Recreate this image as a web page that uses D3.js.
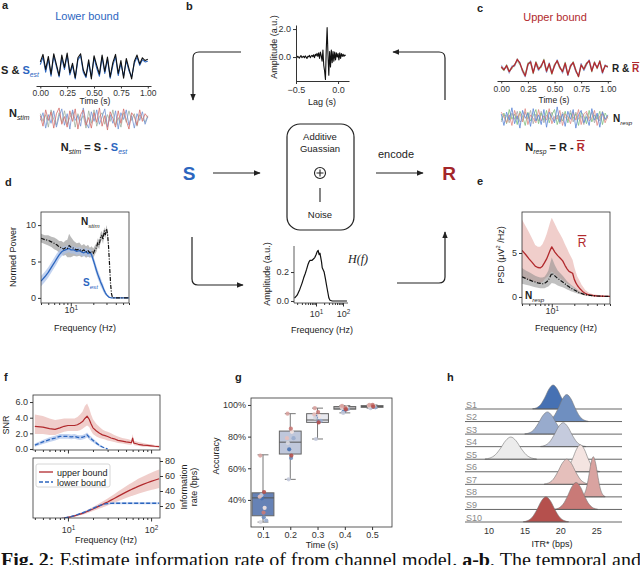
<!DOCTYPE html>
<html>
<head>
<meta charset="utf-8">
<script src="https://cdn.jsdelivr.net/npm/d3@7/dist/d3.min.js"></script>
<style>
  body { margin: 0; background: #fff; }
  svg { display: block; font-family: "Liberation Sans", Arial, sans-serif; }
</style>
</head>
<body>
<svg id="fig" width="640" height="565"></svg>
<script>
// ---------------- data ----------------
// a: stimulus and its estimate (0..1 s)
var timeGrid = d3.range(41).map(function(i){ return i / 40; });
var sSig = [0.6,1.7,-0.5,1.4,-1.2,1.8,0.2,-1.4,1.6,-0.2,1.9,-1.0,0.4,-1.7,1.2,1.8,-0.6,-1.5,0.9,-1.9,1.5,0.1,-1.2,1.6,-0.8,1.3,-1.6,0.5,1.7,-1.1,0.8,-1.8,1.1,-0.4,-1.9,0.7,1.6,0.3,1.2,0.8,1.0];
var sEst = [0.2,1.3,-0.9,1.0,-1.5,1.5,-0.1,-1.6,1.2,-0.5,1.6,-1.3,0.1,-1.9,0.9,1.5,-0.9,-1.7,0.5,-1.6,1.2,-0.3,-1.5,1.3,-1.1,1.0,-1.8,0.1,1.4,-1.4,0.4,-1.5,0.8,-0.7,-1.6,0.4,1.3,0.1,0.9,0.6,0.7];
var nStimRed = [0.3,-0.8,0.9,-0.2,0.7,-1.0,0.5,1.1,-0.6,0.2,-0.9,0.8,-0.3,1.0,-1.1,0.4,0.9,-0.7,0.1,-1.0,0.6,-0.4,1.1,-0.8,0.3,-1.2,0.7,0.0,-0.9,0.8,-0.5,1.0,-0.2,-1.1,0.6,0.2,-0.7,0.9,-0.3,0.5,0.1];
var nStimBlue = [-0.2,0.6,-1.0,0.4,-0.5,0.8,-0.9,0.2,1.0,-0.7,0.5,-1.1,0.9,-0.2,0.3,-0.8,1.1,-0.4,-1.0,0.7,-0.3,0.9,-0.6,0.2,1.0,-0.9,0.4,-0.5,0.8,-1.1,0.6,-0.1,0.9,-0.7,0.3,-1.0,0.5,-0.2,0.7,-0.6,0.2];
var nStimGray = [0.5,-0.3,0.4,-0.9,0.9,-0.1,-0.7,0.6,-0.4,0.8,-0.6,0.1,0.7,-0.9,0.5,-0.2,0.3,-1.0,0.8,-0.5,0.9,-0.8,0.2,0.6,-0.6,0.4,-0.3,0.9,-0.7,0.1,-0.9,0.6,-0.4,0.8,-0.2,0.5,-0.8,0.4,0.0,-0.4,0.3];

// c: responses, mean response and response noise
var rBar = [0.2,-0.3,0.4,-0.6,0.1,0.5,1.4,0.8,-0.4,-1.3,0.6,1.0,-0.8,0.9,-0.2,0.3,1.3,-0.5,0.7,-0.9,0.4,1.2,0.1,-0.6,0.8,-1.1,0.3,0.9,-0.4,-1.4,0.5,-0.2,0.7,1.2,-0.5,0.9,0.0,1.1,-0.7,0.4,0.2];
var rTrialBlue = [0.5,-0.1,0.2,-0.9,0.4,0.3,1.2,1.0,-0.7,-1.5,0.3,1.2,-0.5,0.6,-0.5,0.6,1.0,-0.8,0.9,-0.6,0.1,1.4,0.3,-0.9,0.5,-1.3,0.6,0.7,-0.7,-1.2,0.8,-0.5,0.4,1.4,-0.2,0.6,0.3,0.8,-1.0,0.6,0.0];
var rTrialGreen = [0.0,-0.5,0.6,-0.4,-0.2,0.7,1.1,0.5,-0.2,-1.0,0.9,0.8,-1.0,1.1,0.1,0.0,1.5,-0.3,0.4,-1.1,0.7,1.0,-0.2,-0.4,1.0,-0.9,0.0,1.1,-0.2,-1.5,0.3,0.1,0.9,1.0,-0.7,1.1,-0.2,1.3,-0.5,0.2,0.4];
var rTrialGray = [0.3,-0.2,0.1,-0.7,0.3,0.2,1.6,0.6,-0.6,-1.1,0.4,1.2,-0.6,0.7,-0.4,0.5,1.1,-0.7,0.5,-0.7,0.6,1.1,0.3,-0.8,0.6,-1.2,0.5,0.8,-0.6,-1.3,0.7,-0.4,0.5,1.3,-0.3,0.7,0.2,1.0,-0.8,0.3,0.1];
var nRespBlue = [0.4,-0.9,0.6,-0.3,1.1,-0.7,0.2,-1.2,0.8,-0.1,0.5,-1.0,1.0,-0.4,0.3,-0.8,0.9,-1.1,0.6,0.0,-0.6,1.2,-0.5,0.4,-1.0,0.7,-0.2,0.9,-1.2,0.3,0.8,-0.6,0.1,-0.9,1.0,-0.3,0.5,-1.1,0.6,-0.2,0.3];
var nRespGreen = [-0.3,0.5,-0.7,0.9,-0.2,0.4,-0.8,0.7,0.1,-0.9,0.6,-0.4,0.2,0.9,-0.7,0.5,-0.3,0.8,-0.6,0.3,0.9,-0.8,0.2,-0.4,0.7,-0.6,0.5,-0.1,0.4,-0.9,0.6,0.2,-0.7,0.8,-0.5,0.3,-0.2,0.7,-0.8,0.5,-0.1];
var nRespRed = [0.6,0.1,-0.6,0.3,-0.9,0.8,-0.2,0.5,-0.5,1.0,-0.8,0.3,-0.1,-0.6,0.9,-0.4,0.2,-0.3,1.0,-0.7,0.1,-0.2,0.8,-0.9,0.4,0.1,-0.7,0.6,-0.3,0.9,-0.8,0.4,0.7,-0.4,-0.1,0.8,-0.9,0.2,0.4,-0.6,0.2];
var nRespGray = [-0.5,0.3,0.2,-0.6,0.5,-0.2,0.7,-0.5,-0.3,0.6,-0.2,0.8,-0.7,0.4,-0.4,0.7,-0.6,0.3,-0.2,0.6,-0.4,0.3,-0.7,0.6,0.0,-0.3,0.8,-0.5,0.6,-0.2,0.2,-0.8,0.5,-0.1,0.6,-0.6,0.3,-0.4,0.7,-0.3,0.1];

// b: temporal response function
var lagGrid = d3.range(60).map(function(i){ return -0.5 + i * 0.01; });
var trf = [0.0,-0.05,0.06,0.0,-0.08,0.04,0.1,-0.04,0.02,0.06,
           -0.05,0.08,0.0,-0.1,0.05,0.02,0.12,-0.04,0.06,0.12,
           0.02,0.16,-0.04,0.2,0.1,0.26,0.05,0.3,-0.1,0.35,
           0.1,-0.3,0.5,-0.6,-1.0,-1.6,0.6,2.1,0.2,-1.3,
           0.4,-0.7,0.5,-0.4,0.4,-0.3,0.35,-0.2,0.3,0.0,
           0.25,-0.2,0.3,-0.1,0.25,0.05,0.2,0.05,0.15,0.1];

// d, e: spectra
var fD = [4,4.5,5,5.5,6,6.5,7,7.5,8,8.5,9,9.5,10,11,12,13,14,15,16,17,18,19,20,21,22,23,24,25,26,27,28,29,30,31,32,33,34,35,36,38,40,45,50,55,60];
var nStimPow = [8.2,8.0,7.9,7.7,7.5,7.3,7.0,6.9,6.7,6.9,6.8,7.2,7.0,6.8,6.6,6.7,6.4,6.6,6.3,6.5,6.2,6.4,6.1,6.6,6.9,7.6,7.3,8.3,8.6,8.0,9.2,8.7,9.5,8.8,7.0,4.5,2.0,0.6,0.1,0,0,0,0,0,0];
var nStimSd = [0.6,0.6,0.7,0.7,0.8,0.8,0.8,0.9,0.9,1.0,1.2,1.6,1.4,1.0,0.9,0.9,0.8,0.8,0.8,0.8,0.7,0.7,0.7,0.6,0.6,0.6,0.6,0.6,0.6,0.6,0.5,0.5,0.5,0.5,0.5,0.4,0.3,0.1,0.05,0,0,0,0,0,0];
var sEstPow = [2.3,2.9,3.5,4.2,4.8,5.4,5.9,6.3,6.5,6.6,6.7,6.8,6.6,6.6,6.4,6.5,6.3,6.2,6.4,6.1,6.3,5.9,5.2,4.5,3.8,3.2,2.7,2.2,1.8,1.4,1.0,0.7,0.45,0.3,0.15,0.08,0.03,0,0,0,0,0,0,0,0];
var sEstSd = [0.7,0.7,0.7,0.7,0.7,0.7,0.6,0.6,0.6,0.5,0.5,0.5,0.5,0.5,0.5,0.5,0.5,0.5,0.5,0.5,0.5,0.5,0.5,0.6,0.6,0.6,0.6,0.6,0.5,0.5,0.4,0.3,0.2,0.15,0.1,0.05,0.02,0,0,0,0,0,0,0,0];
var rBarPsd = [5.3,4.8,4.3,3.9,3.5,3.35,3.3,3.5,3.9,4.3,4.8,5.3,5.7,5.1,4.7,4.4,4.1,3.6,3.2,2.9,2.8,2.7,2.0,1.6,1.3,1.1,0.9,0.75,0.6,0.5,0.42,0.36,0.3,0.27,0.24,0.22,0.2,0.18,0.16,0.14,0.12,0.1,0.08,0.07,0.06];
var rBarHi = [8.8,8.0,7.3,6.6,5.9,5.7,5.7,6.0,6.5,7.1,7.8,8.5,9.0,8.3,7.6,7.1,6.6,6.0,5.5,5.0,4.6,4.2,3.4,2.8,2.3,2.0,1.7,1.4,1.2,1.0,0.8,0.7,0.6,0.5,0.45,0.4,0.36,0.33,0.3,0.27,0.25,0.2,0.16,0.14,0.12];
var rBarLo = [2.2,2.0,1.9,1.8,1.7,1.65,1.6,1.7,2.0,2.2,2.4,2.7,2.9,2.6,2.3,2.1,1.9,1.7,1.5,1.4,1.3,1.2,1.0,0.8,0.6,0.45,0.35,0.3,0.22,0.18,0.14,0.12,0.1,0.09,0.08,0.07,0.06,0.05,0.05,0.04,0.03,0.03,0.02,0.02,0.02];
var nRespPsd = [2.3,2.1,1.95,1.8,1.7,1.6,1.55,1.5,1.55,1.7,1.9,2.3,2.7,2.4,2.1,1.9,1.7,1.5,1.3,1.15,1.0,0.9,0.8,0.7,0.6,0.5,0.45,0.4,0.35,0.3,0.27,0.24,0.22,0.2,0.18,0.17,0.16,0.15,0.14,0.12,0.11,0.09,0.08,0.07,0.06];
var nRespHi = [3.3,3.0,2.8,2.6,2.4,2.3,2.2,2.2,2.3,2.6,3.0,3.8,4.5,3.6,3.0,2.7,2.4,2.1,1.8,1.6,1.4,1.25,1.1,0.95,0.8,0.68,0.6,0.52,0.46,0.4,0.36,0.32,0.29,0.26,0.24,0.22,0.2,0.19,0.18,0.16,0.14,0.12,0.1,0.09,0.08];
var nRespLo = [1.5,1.4,1.3,1.2,1.1,1.05,1.0,1.0,1.0,1.1,1.2,1.4,1.6,1.5,1.3,1.2,1.1,1.0,0.85,0.75,0.65,0.58,0.5,0.45,0.4,0.33,0.3,0.27,0.24,0.2,0.18,0.16,0.15,0.14,0.12,0.11,0.1,0.1,0.09,0.08,0.07,0.06,0.05,0.05,0.04];

// H(f): transfer function amplitude
var hF = [1.6,2,2.5,3,3.5,4,4.5,5,5.5,6,7,8,9,10,11,12,13,14,15,16,17,18,20,22,25,28,30,33,40,60,100,140];
var hAmp = [0.02,0.04,0.08,0.12,0.16,0.19,0.22,0.25,0.27,0.28,0.28,0.29,0.30,0.32,0.34,0.35,0.32,0.33,0.30,0.27,0.23,0.22,0.20,0.16,0.10,0.05,0.02,0.005,0,0,0,0];

// f: SNR and information rate
var fF = [4,5,6,7,8,9,10,11,12,13,14,15,16,17,18,19,20,22,24,26,28,30,33,36,40,45,50,55,58,60,62,65,70,80,90,100,110,125];
var snrUp = [2.9,2.8,2.6,2.5,2.7,2.9,3.0,3.0,3.0,3.1,3.3,3.5,3.9,4.2,3.8,3.2,2.7,2.3,2.0,1.8,1.7,1.6,1.4,1.3,1.1,1.0,0.9,0.85,0.8,1.4,0.75,0.7,0.6,0.5,0.45,0.4,0.35,0.3];
var snrUpHi = [4.4,4.2,3.9,3.7,3.8,3.9,3.9,3.9,3.9,4.1,4.4,4.8,5.5,5.8,5.2,4.4,3.8,3.2,2.8,2.5,2.3,2.2,2.0,1.8,1.6,1.4,1.3,1.2,1.1,1.9,1.05,1.0,0.9,0.75,0.65,0.6,0.5,0.45];
var snrUpLo = [1.9,1.9,1.8,1.8,2.0,2.2,2.3,2.3,2.3,2.3,2.4,2.6,2.8,3.0,2.8,2.3,1.9,1.6,1.4,1.3,1.2,1.1,1.0,0.9,0.75,0.7,0.6,0.55,0.5,1.0,0.5,0.45,0.4,0.3,0.28,0.25,0.22,0.2];
var fFlo = [4,5,6,7,8,9,10,11,12,13,14,15,16,17,18,19,20,22,24,26,28,30];
var snrLow = [0.5,0.9,1.2,1.4,1.6,1.6,1.6,1.55,1.6,1.5,1.45,1.5,1.6,1.8,1.5,1.3,1.1,0.75,0.45,0.25,0.1,0.0];
var snrLowSd = [0.2,0.25,0.3,0.3,0.3,0.3,0.3,0.3,0.3,0.3,0.3,0.3,0.3,0.3,0.3,0.3,0.25,0.2,0.15,0.1,0.05,0.0];
var infoUp = [0.3,0.8,1.4,2.1,2.9,3.8,4.8,5.8,6.9,8.0,9.1,10.2,11.4,12.6,13.8,15.0,16.0,18.2,20.2,22.0,23.8,25.4,27.8,30.0,32.8,35.8,38.5,40.8,42.0,42.8,43.5,44.5,46.2,48.8,51.0,52.8,54.3,56.3];
var infoUpSd = [0.1,0.2,0.3,0.4,0.5,0.6,0.8,0.9,1.1,1.3,1.5,1.7,1.9,2.1,2.3,2.5,2.7,3.1,3.5,3.9,4.3,4.7,5.2,5.8,6.5,7.2,7.9,8.5,8.8,9.0,9.2,9.5,10.0,10.6,11.1,11.5,11.9,12.3];
var infoLow = [0.3,0.8,1.4,2.1,2.9,3.9,5.0,6.1,7.3,8.5,9.7,10.9,12.1,13.3,14.5,15.7,16.8,18.9,20.6,21.9,22.8,23.3,23.6,23.7,23.7,23.7,23.7,23.7,23.7,23.7,23.7,23.7,23.7,23.7,23.7,23.7,23.7,23.7];
var infoLowSd = [0.1,0.2,0.3,0.4,0.5,0.6,0.7,0.8,0.9,1.0,1.0,1.1,1.1,1.2,1.2,1.2,1.2,1.3,1.3,1.3,1.3,1.3,1.3,1.3,1.3,1.3,1.3,1.3,1.3,1.3,1.3,1.3,1.3,1.3,1.3,1.3,1.3,1.3];

// g: accuracy vs. window length
var timesG = [0.1, 0.2, 0.3, 0.4, 0.5];
var boxQ1 = [30, 69, 89, 97.3, 98.5];
var boxMed = [41.3, 76.5, 90.5, 98, 99];
var boxQ3 = [44.5, 83.5, 94.5, 99, 99.6];
var whiskLo = [26, 53, 78.5, 95, 98];
var whiskHi = [68.5, 94.5, 98, 99.6, 100];
var boxFill = ["#6682b6", "#bfc7db", "#e8e9ef", "#eeebee", "#f2e8e8"];
var accBySubject = [
  [41, 72, 92.5, 96, 98.5],
  [29, 66.5, 89.5, 97, 99],
  [27, 79, 90, 97.5, 98.5],
  [43, 53, 78.5, 95, 98],
  [26, 76, 92, 98, 99],
  [35, 83, 93, 98.5, 99.5],
  [42, 79, 94, 99, 99.5],
  [68, 94.5, 98, 99.5, 100],
  [32, 85, 95.5, 98, 100],
  [45, 68, 89, 97.2, 99]
];
var jitterG = [-0.004, 0.003, 0.012, -0.006, -0.009, 0.006, -0.012, -0.01, 0.002, 0.004];

// h: ITR distributions per subject
var subjects = ["S1","S2","S3","S4","S5","S6","S7","S8","S9","S10"];
var subjColors = ["#4671b3","#6f8fc0","#98abcd","#c5cbdd","#ececec","#f4e4e1","#e5bfbb","#d9a3a0","#c97a77","#b5504d"];
var ridgeItr = [
  [16.15,16.72,17.29,17.86,18.43,19.0,19.57,20.14,20.71,21.28,21.85],
  [17.9,18.5,19.1,19.7,20.3,20.9,21.5,22.1,22.7,23.3,23.9],
  [15.05,15.68,16.31,16.94,17.57,18.2,18.83,19.46,20.09,20.72,21.35],
  [17.25,17.88,18.51,19.14,19.77,20.4,21.03,21.66,22.29,22.92,23.55],
  [9.5,10.22,10.94,11.66,12.38,13.1,13.82,14.54,15.26,15.98,16.7],
  [20.1,20.64,21.18,21.72,22.26,22.8,23.34,23.88,24.42,24.96,25.5],
  [17.75,18.38,19.01,19.64,20.27,20.9,21.53,22.16,22.79,23.42,24.05],
  [22.95,23.28,23.61,23.94,24.27,24.6,24.93,25.26,25.59,25.92,26.25],
  [19.2,19.8,20.4,21.0,21.6,22.2,22.8,23.4,24.0,24.6,25.2],
  [14.85,15.48,16.11,16.74,17.37,18.0,18.63,19.26,19.89,20.52,21.15]
];
var ridgeDens = [
  [0.004,0.022,0.079,0.195,0.334,0.40,0.334,0.195,0.079,0.022,0.004],
  [0.005,0.025,0.089,0.219,0.376,0.45,0.376,0.219,0.089,0.025,0.005],
  [0.004,0.021,0.073,0.18,0.309,0.37,0.309,0.18,0.073,0.021,0.004],
  [0.004,0.022,0.079,0.195,0.334,0.40,0.334,0.195,0.079,0.022,0.004],
  [0.004,0.021,0.073,0.18,0.309,0.37,0.309,0.18,0.073,0.021,0.004],
  [0.005,0.025,0.089,0.219,0.376,0.45,0.376,0.219,0.089,0.025,0.005],
  [0.005,0.024,0.083,0.205,0.351,0.42,0.351,0.205,0.083,0.024,0.005],
  [0.007,0.038,0.133,0.326,0.559,0.67,0.559,0.326,0.133,0.038,0.007],
  [0.005,0.025,0.089,0.219,0.376,0.45,0.376,0.219,0.089,0.025,0.005],
  [0.005,0.024,0.083,0.205,0.351,0.42,0.351,0.205,0.083,0.024,0.005]
];

// ---------------- drawing ----------------
var svg = d3.select("#fig");
var BLUE = "#2c66bf", RED = "#b1292d", DRED = "#a3262a", INK = "#222";
var FS = 9;   // axis label / tick size

var defs = svg.append("defs");
defs.append("marker").attr("id", "arr").attr("viewBox", "0 0 10 10")
    .attr("refX", 9).attr("refY", 5).attr("markerWidth", 7).attr("markerHeight", 7)
    .attr("markerUnits", "userSpaceOnUse").attr("orient", "auto")
  .append("path").attr("d", "M0,1 L10,5 L0,9 Z").attr("fill", INK);

function clip(id, x, y, w, h) {
  defs.append("clipPath").attr("id", id).append("rect")
      .attr("x", x).attr("y", y).attr("width", w).attr("height", h);
  return "url(#" + id + ")";
}

function styleAxis(g, fs) {
  g.attr("font-family", null).attr("font-size", fs || FS);
  g.selectAll("path.domain").attr("stroke", "#333");
  g.selectAll(".tick line").attr("stroke", "#333");
  g.selectAll(".tick text").attr("fill", "#333");
  return g;
}

function sup10(g) {
  g.selectAll(".tick text").each(function(d) {
    var t = d3.select(this);
    t.text(null);
    t.append("tspan").text("10");
    t.append("tspan").attr("dy", "-0.5em").attr("font-size", "0.7em")
     .text(Math.round(Math.log10(d)));
  });
}

function logBottom(x, y, majors, pad, labelled) {
  var minors = x.ticks().filter(function(v){ return majors.indexOf(v) < 0; });
  var g1 = svg.append("g").attr("transform", "translate(0," + y + ")")
    .call(d3.axisBottom(x).tickValues(minors).tickSize(2).tickFormat(""));
  styleAxis(g1).select(".domain").remove();
  var g2 = svg.append("g").attr("transform", "translate(0," + y + ")")
    .call(d3.axisBottom(x).tickValues(majors).tickSize(3.5).tickPadding(pad)
      .tickFormat(labelled ? function(){ return "1"; } : ""));
  styleAxis(g2).select(".domain").remove();
  if (labelled) sup10(g2);
}

function rich(x, y, parts, fs, anchor) {
  var t = svg.append("text").attr("x", x).attr("y", y).attr("font-size", fs)
    .attr("text-anchor", anchor || "start").attr("fill", INK);
  var shift = 0;
  parts.forEach(function(p) {
    var s = t.append("tspan").text(p.t);
    var want = p.sub ? fs * 0.25 : (p.sup ? -fs * 0.4 : 0);
    if (want !== shift) { s.attr("dy", want - shift); shift = want; }
    if (p.sub || p.sup) s.attr("font-size", fs * 0.62);
    if (p.b) s.attr("font-weight", "bold");
    if (p.i) s.attr("font-style", "italic");
    if (p.c) s.attr("fill", p.c);
    if (p.over) s.style("text-decoration", "overline");
  });
  return t;
}

function label(x, y, s, fs, opts) {
  opts = opts || {};
  var t = svg.append("text").attr("x", x).attr("y", y).attr("font-size", fs)
    .attr("text-anchor", opts.anchor || "middle").attr("fill", opts.color || INK).text(s);
  if (opts.bold) t.attr("font-weight", "bold");
  if (opts.rot) t.attr("transform", "rotate(-90," + x + "," + y + ")");
  return t;
}

function trace(xs, ys, xsc, ysc, color, w, opts) {
  opts = opts || {};
  var p = svg.append("path").datum(ys)
    .attr("d", d3.line().defined(function(d){ return d != null; })
      .x(function(d, i){ return xsc(xs[i]); }).y(function(d){ return ysc(d); }))
    .attr("fill", "none").attr("stroke", color).attr("stroke-width", w)
    .attr("stroke-linejoin", "round");
  if (opts.op) p.attr("opacity", opts.op);
  if (opts.dash) p.attr("stroke-dasharray", opts.dash);
  if (opts.clip) p.attr("clip-path", opts.clip);
  return p;
}

function band(xs, lo, hi, xsc, ysc, color, op, clipUrl) {
  var p = svg.append("path").datum(xs)
    .attr("d", d3.area().x(function(d){ return xsc(d); })
      .y0(function(d, i){ return ysc(lo[i]); }).y1(function(d, i){ return ysc(hi[i]); }))
    .attr("fill", color).attr("opacity", op).attr("stroke", "none");
  if (clipUrl) p.attr("clip-path", clipUrl);
  return p;
}

function frame(x0, y0, x1, y1) {
  svg.append("rect").attr("x", x0).attr("y", y0).attr("width", x1 - x0).attr("height", y1 - y0)
    .attr("fill", "none").attr("stroke", "#333").attr("stroke-width", 0.8);
}

function arrowPath(d) {
  svg.append("path").attr("d", d).attr("fill", "none").attr("stroke", INK)
    .attr("stroke-width", 1.2).attr("marker-end", "url(#arr)");
}

// panel letters
[["a", 2, 9], ["b", 186, 10], ["c", 477, 12], ["d", 5, 186], ["e", 477, 185],
 ["f", 4, 381], ["g", 235, 381], ["h", 447, 381]].forEach(function(p) {
  label(p[1], p[2], p[0], 11, { anchor: "start", bold: true });
});

// ---- a ----
label(87, 20, "Lower bound", 11, { color: BLUE });
var xA = d3.scaleLinear().domain([-0.04, 1.03]).range([36, 151]);
var yA = d3.scaleLinear().domain([-2.2, 2.2]).range([81, 51]);
trace(timeGrid, sEst, xA, yA, BLUE, 1.1);
trace(timeGrid, sSig, xA, yA, "#111", 1.1);
var axA = svg.append("g").attr("transform", "translate(0,86)")
  .call(d3.axisBottom(xA).tickValues([0, 0.25, 0.5, 0.75, 1]).tickFormat(d3.format(".2f"))
    .tickSize(2.5).tickSizeOuter(0).tickPadding(1));
styleAxis(axA, 8.5);
label(95, 104, "Time (s)", 8.5);
var yAn = d3.scaleLinear().domain([-1.3, 1.3]).range([131, 106]);
trace(timeGrid, nStimGray, xA, yAn, "#9fb09f", 0.9, { op: 0.9 });
trace(timeGrid, nStimBlue, xA, yAn, "#7393d2", 0.9, { op: 0.9 });
trace(timeGrid, nStimRed, xA, yAn, "#d2706c", 0.9, { op: 0.9 });
rich(1, 74, [{ t: "S & ", b: 1 }, { t: "S", b: 1, c: BLUE }, { t: "est", sub: 1, i: 1, c: BLUE }], 11);
rich(9, 117, [{ t: "N", b: 1 }, { t: "stim", sub: 1, i: 1 }], 11);
rich(94, 151, [{ t: "N", b: 1 }, { t: "stim", sub: 1, i: 1 }, { t: " = S - ", b: 1 },
  { t: "S", b: 1, c: BLUE }, { t: "est", sub: 1, i: 1, c: BLUE }], 11, "middle");

// ---- c ----
label(555, 21, "Upper bound", 11, { color: RED });
var xC = d3.scaleLinear().domain([-0.04, 1.03]).range([497, 611]);
var yC = d3.scaleLinear().domain([-1.8, 1.8]).range([79, 57]);
trace(timeGrid, rTrialGray, xC, yC, "#aaaaaa", 0.8, { op: 0.9 });
trace(timeGrid, rTrialGreen, xC, yC, "#8cc08c", 0.8, { op: 0.9 });
trace(timeGrid, rTrialBlue, xC, yC, "#86a2d8", 0.8, { op: 0.9 });
trace(timeGrid, rBar, xC, yC, RED, 1.3);
var axC = svg.append("g").attr("transform", "translate(0,81)")
  .call(d3.axisBottom(xC).tickValues([0, 0.25, 0.5, 0.75, 1]).tickFormat(d3.format(".2f"))
    .tickSize(2.5).tickSizeOuter(0).tickPadding(2.5));
styleAxis(axC, 8.5);
label(554, 103, "Time (s)", 8.5);
var yCn = d3.scaleLinear().domain([-1.3, 1.3]).range([129, 106]);
trace(timeGrid, nRespGray, xC, yCn, "#a8a8a8", 0.9, { op: 0.9 });
trace(timeGrid, nRespGreen, xC, yCn, "#80bf80", 0.9, { op: 0.9 });
trace(timeGrid, nRespRed, xC, yCn, "#e08a84", 0.9, { op: 0.9 });
trace(timeGrid, nRespBlue, xC, yCn, "#5b86d6", 0.9, { op: 0.9 });
rich(612, 72, [{ t: "R & ", b: 1 }, { t: "R", b: 1, c: RED, over: 1 }], 10);
rich(613, 122, [{ t: "N", b: 1 }, { t: "resp", sub: 1, i: 1 }], 10);
rich(555, 151, [{ t: "N", b: 1 }, { t: "resp", sub: 1, i: 1 }, { t: " = R - ", b: 1 },
  { t: "R", b: 1, c: RED, over: 1 }], 11, "middle");

// ---- b ----
var xB = d3.scaleLinear().domain([-0.5, 0.13]).range([296, 349]);
var yB = d3.scaleLinear().domain([-1.71, 2.29]).range([81, 25]);
trace(lagGrid, trf, xB, yB, "#111", 1.1);
var axBx = svg.append("g").attr("transform", "translate(0,81)")
  .call(d3.axisBottom(xB).tickValues([-0.5, 0]).tickFormat(d3.format(".1f")).tickSize(3).tickSizeOuter(0).tickPadding(3));
styleAxis(axBx, FS);
axBx.selectAll(".tick text").text(function(d){ return d3.format(".1f")(d).replace("-", "\u2212"); });
var axBy = svg.append("g").attr("transform", "translate(296,0)")
  .call(d3.axisLeft(yB).tickValues([0, 2]).tickSize(3).tickSizeOuter(0).tickPadding(2));
styleAxis(axBy, FS);
label(322, 105, "Lag (s)", FS);
label(277, 47, "Amplitude (a.u.)", FS, { rot: true });

// ---- diagram ----
label(189, 180, "S", 19, { bold: true, color: BLUE });
label(449, 180, "R", 19, { bold: true, color: DRED });
svg.append("rect").attr("x", 287).attr("y", 124).attr("width", 67).attr("height", 106)
  .attr("rx", 13).attr("fill", "none").attr("stroke", INK).attr("stroke-width", 1.2);
label(320, 140, "Additive", 9.5);
label(320, 152, "Guassian", 9.5);
svg.append("circle").attr("cx", 320).attr("cy", 173).attr("r", 5.5)
  .attr("fill", "none").attr("stroke", INK).attr("stroke-width", 1.1);
svg.append("path").attr("d", "M316.5,173H323.5M320,169.5V176.5").attr("stroke", INK).attr("stroke-width", 1.1);
svg.append("line").attr("x1", 320).attr("x2", 320).attr("y1", 202).attr("y2", 188)
  .attr("stroke", INK).attr("stroke-width", 1.1);
label(320, 218, "Noise", 9.5);
label(396, 158, "encode", 11);
arrowPath("M213,173H260");
arrowPath("M376,173H423");
arrowPath("M241,52H199Q193,52 193,58V100");
arrowPath("M445,100V58Q445,52 439,52H393");
arrowPath("M192,237V279Q192,285 198,285H243");
arrowPath("M397,283H439Q445,283 445,277V232");

// ---- H(f) ----
var xHf = d3.scaleLog().domain([1.53, 153]).range([294, 348]);
var yHf = d3.scaleLinear().domain([-0.014, 0.38]).range([303, 246]);
trace(hF, hAmp, xHf, yHf, "#111", 1.2);
svg.append("path").attr("d", "M294,246V303H348").attr("fill", "none").attr("stroke", "#333").attr("stroke-width", 0.8);
var axHy = svg.append("g").attr("transform", "translate(294,0)")
  .call(d3.axisLeft(yHf).tickValues([0, 0.2]).tickFormat(d3.format(".1f")).tickSize(3).tickPadding(2));
styleAxis(axHy).select(".domain").remove();
logBottom(xHf, 303, [10, 100], 4, true);
label(270, 274, "Amplitude (a.u.)", FS, { rot: true });
label(322, 333, "Frequency (Hz)", FS);
svg.append("text").attr("x", 358).attr("y", 263).attr("text-anchor", "middle")
  .attr("font-family", "'Liberation Serif', serif").attr("font-style", "italic").attr("font-size", 12)
  .attr("fill", INK).text("H(f)");

// ---- d ----
var xD = d3.scaleLog().domain([4, 60]).range([41, 129]);
var yD = d3.scaleLinear().domain([-0.7, 11.8]).range([303, 212]);
var clipD = clip("clipD", 41, 212, 88, 91);
band(fD, nStimPow.map(function(v, i){ return v - nStimSd[i]; }),
     nStimPow.map(function(v, i){ return v + nStimSd[i]; }), xD, yD, "#8c8c8c", 0.6, clipD);
band(fD, sEstPow.map(function(v, i){ return v - sEstSd[i]; }),
     sEstPow.map(function(v, i){ return v + sEstSd[i]; }), xD, yD, "#a9c0ea", 0.7, clipD);
trace(fD, sEstPow, xD, yD, BLUE, 1.3, { clip: clipD });
trace(fD, nStimPow, xD, yD, "#111", 1.2, { dash: "4,1.5,1,1.5", clip: clipD });
frame(41, 212, 129, 303);
var axDy = svg.append("g").attr("transform", "translate(41,0)")
  .call(d3.axisLeft(yD).tickValues([0, 5, 10]).tickSize(3).tickPadding(2));
styleAxis(axDy).select(".domain").remove();
logBottom(xD, 303, [10], 0.5, true);
label(16, 257, "Normed Power", FS, { rot: true });
label(85, 331, "Frequency (Hz)", FS);
rich(81, 225, [{ t: "N", b: 1 }, { t: "stim", sub: 1, i: 1 }], 10);
rich(83, 286, [{ t: "S", b: 1, c: BLUE }, { t: "est", sub: 1, i: 1, c: BLUE }], 10);

// ---- e ----
var xE = d3.scaleLog().domain([4, 60]).range([522, 610]);
var yE = d3.scaleLinear().domain([-0.8, 9.66]).range([304, 212]);
var clipE = clip("clipE", 522, 212, 88, 92);
band(fD, rBarLo, rBarHi, xE, yE, "#e6aea9", 0.6, clipE);
band(fD, nRespLo, nRespHi, xE, yE, "#8c8c8c", 0.55, clipE);
trace(fD, rBarPsd, xE, yE, RED, 1.3, { clip: clipE });
trace(fD, nRespPsd, xE, yE, "#111", 1.2, { dash: "4,1.5,1,1.5", clip: clipE });
frame(522, 212, 610, 304);
var axEy = svg.append("g").attr("transform", "translate(522,0)")
  .call(d3.axisLeft(yE).tickValues([0, 5]).tickSize(3).tickPadding(2));
styleAxis(axEy).select(".domain").remove();
logBottom(xE, 304, [10], 0.5, true);
rich(504, 255, [{ t: "PSD (\u03bcV" }, { t: "2", sup: 1 }, { t: " /Hz)" }], FS, "middle")
  .attr("transform", "rotate(-90,504,255)");
label(566, 331, "Frequency (Hz)", FS);
rich(582, 247, [{ t: "R", c: RED, over: 1 }], 12, "middle");
rich(525, 299, [{ t: "N", b: 1 }, { t: "resp", sub: 1, i: 1 }], 10);

// ---- f ----
var xF = d3.scaleLog().domain([3.8, 128]).range([33, 160]);
var ySnr = d3.scaleLinear().domain([-0.13, 6.9]).range([450, 395]);
var clipF1 = clip("clipF1", 33, 395, 127, 55);
band(fF, snrUpLo, snrUpHi, xF, ySnr, "#e6aea9", 0.6, clipF1);
band(fFlo, snrLow.map(function(v, i){ return v - snrLowSd[i]; }),
     snrLow.map(function(v, i){ return v + snrLowSd[i]; }), xF, ySnr, "#a9c0ea", 0.7, clipF1);
trace(fF, snrUp, xF, ySnr, RED, 1.2, { clip: clipF1 });
trace(fFlo, snrLow, xF, ySnr, BLUE, 1.3, { dash: "4,2", clip: clipF1 });
frame(33, 395, 160, 450);
var axF1y = svg.append("g").attr("transform", "translate(33,0)")
  .call(d3.axisLeft(ySnr).tickValues([0, 2, 4, 6]).tickSize(3).tickPadding(2));
styleAxis(axF1y).select(".domain").remove();
logBottom(xF, 450, [10, 100], 2, false);
label(9, 425, "SNR", FS, { rot: true });

var yInfo = d3.scaleLinear().domain([0, 80]).range([521, 461]);
var clipF2 = clip("clipF2", 33, 458, 127, 60);
band(fF, infoUp.map(function(v, i){ return v - infoUpSd[i]; }),
     infoUp.map(function(v, i){ return v + infoUpSd[i]; }), xF, yInfo, "#e6aea9", 0.6, clipF2);
band(fF, infoLow.map(function(v, i){ return v - infoLowSd[i]; }),
     infoLow.map(function(v, i){ return v + infoLowSd[i]; }), xF, yInfo, "#a9c0ea", 0.7, clipF2);
trace(fF, infoUp, xF, yInfo, RED, 1.2, { clip: clipF2 });
trace(fF, infoLow, xF, yInfo, BLUE, 1.3, { dash: "4,2", clip: clipF2 });
frame(33, 458, 160, 518);
var axF2y = svg.append("g").attr("transform", "translate(160,0)")
  .call(d3.axisRight(yInfo).tickValues([20, 40, 60, 80]).tickSize(3).tickPadding(2));
styleAxis(axF2y).select(".domain").remove();
logBottom(xF, 518, [10, 100], 5, true);
label(187, 487, "Information", FS, { rot: true });
label(197, 487, "rate (bps)", FS, { rot: true });
label(106, 543, "Frequency (Hz)", FS);
// legend
svg.append("rect").attr("x", 36).attr("y", 464).attr("width", 74).attr("height", 23).attr("rx", 2)
  .attr("fill", "#fff").attr("fill-opacity", 0.8).attr("stroke", "#ccc").attr("stroke-width", 0.8);
svg.append("line").attr("x1", 39).attr("x2", 53).attr("y1", 472).attr("y2", 472).attr("stroke", RED).attr("stroke-width", 1.3);
svg.append("line").attr("x1", 39).attr("x2", 53).attr("y1", 482).attr("y2", 482).attr("stroke", BLUE)
  .attr("stroke-width", 1.3).attr("stroke-dasharray", "4,2");
label(57, 475.5, "upper bound", 9, { anchor: "start" });
label(57, 485.5, "lower bound", 9, { anchor: "start" });

// ---- g ----
var xG = d3.scaleLinear().domain([0.056, 0.573]).range([251, 392]);
var yG = d3.scaleLinear().domain([22.9, 104.4]).range([527, 398]);
var bw = 0.04, cw = 0.02;
timesG.forEach(function(t, i) {
  svg.append("line").attr("x1", xG(t)).attr("x2", xG(t)).attr("y1", yG(whiskLo[i])).attr("y2", yG(whiskHi[i]))
    .attr("stroke", "#777").attr("stroke-width", 1);
  [whiskLo[i], whiskHi[i]].forEach(function(v) {
    svg.append("line").attr("x1", xG(t - cw)).attr("x2", xG(t + cw)).attr("y1", yG(v)).attr("y2", yG(v))
      .attr("stroke", "#777").attr("stroke-width", 1);
  });
  svg.append("rect").attr("x", xG(t - bw)).attr("width", xG(t + bw) - xG(t - bw))
    .attr("y", yG(boxQ3[i])).attr("height", yG(boxQ1[i]) - yG(boxQ3[i]))
    .attr("fill", boxFill[i]).attr("stroke", "#666").attr("stroke-width", 1);
  svg.append("line").attr("x1", xG(t - bw)).attr("x2", xG(t + bw)).attr("y1", yG(boxMed[i])).attr("y2", yG(boxMed[i]))
    .attr("stroke", "#555").attr("stroke-width", 1);
});
accBySubject.forEach(function(row, j) {
  row.forEach(function(v, i) {
    svg.append("circle").attr("cx", xG(timesG[i] + jitterG[j])).attr("cy", yG(v)).attr("r", 2.1)
      .attr("fill", subjColors[j] === "#ececec" ? "#d8d8e0" : subjColors[j]).attr("opacity", 0.9);
  });
});
frame(251, 398, 392, 527);
var axGy = svg.append("g").attr("transform", "translate(251,0)")
  .call(d3.axisLeft(yG).tickValues([40, 60, 80, 100]).tickFormat(function(d){ return d + "%"; }).tickSize(3).tickPadding(2));
styleAxis(axGy).select(".domain").remove();
var axGx = svg.append("g").attr("transform", "translate(0,527)")
  .call(d3.axisBottom(xG).tickValues(timesG).tickFormat(d3.format(".1f")).tickSize(3).tickPadding(2));
styleAxis(axGx).select(".domain").remove();
label(219, 456, "Accuracy", FS, { rot: true });
label(322, 547.5, "Time (s)", FS);

// ---- h ----
var xH = d3.scaleLinear().domain([6.72, 28.6]).range([465, 622]);
var yRow = d3.scalePoint().domain(subjects).range([409, 522]);
var hPx = d3.scaleLinear().domain([0, 1]).range([0, 60]);
subjects.forEach(function(s, i) {
  var base = yRow(s);
  var pts = ridgeItr[i].map(function(v, k){ return [v, ridgeDens[i][k]]; });
  svg.append("text").attr("x", 466).attr("y", base - 1.5).attr("font-size", 9).attr("fill", "#888").text(s);
  svg.append("path").datum(pts)
    .attr("d", d3.area().curve(d3.curveMonotoneX).x(function(d){ return xH(d[0]); })
      .y0(base).y1(function(d){ return base - hPx(d[1]); }))
    .attr("fill", subjColors[i]).attr("stroke", "#777").attr("stroke-width", 0.6);
  svg.append("line").attr("x1", 465).attr("x2", 622).attr("y1", base).attr("y2", base)
    .attr("stroke", "#555").attr("stroke-width", 0.9);
});
var axH = svg.append("g").attr("transform", "translate(0,524)")
  .call(d3.axisBottom(xH).tickValues([10, 15, 20, 25]).tickSize(0).tickPadding(4));
styleAxis(axH).select(".domain").remove();
label(552, 546.5, "ITR* (bps)", FS);

// ---- caption ----
var cap = svg.append("text").attr("x", 1).attr("y", 566)
  .attr("font-family", "'Liberation Serif', 'DejaVu Serif', serif").attr("font-size", 19)
  .attr("fill", "#111").attr("textLength", 640).attr("lengthAdjust", "spacingAndGlyphs");
cap.append("tspan").attr("font-weight", "bold").text("Fig. 2");
cap.append("tspan").text(": Estimate information rate of from channel model. ");
cap.append("tspan").attr("font-weight", "bold").text("a-b");
cap.append("tspan").text(", The temporal and");
</script>
</body>
</html>
